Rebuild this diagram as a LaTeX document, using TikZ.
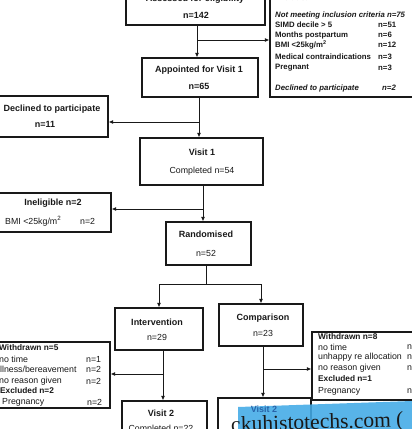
\documentclass[tikz,border=0pt]{standalone}
\usepackage{fontspec}
\setmainfont{Liberation Sans}
\newfontfamily\wmfont{Liberation Serif}
\usetikzlibrary{arrows.meta}
\definecolor{wmblue}{RGB}{66,170,230}
\definecolor{wmtext}{RGB}{40,100,170}
\definecolor{ink}{RGB}{25,25,25}
\begin{document}
\begin{tikzpicture}[x=1pt,y=-1pt,
  box/.style={draw=ink,line width=1.1pt,rectangle,inner sep=0pt},
  ttl/.style={font=\fontsize{9}{10}\selectfont\bfseries,inner sep=0pt,text=ink},
  txt/.style={font=\fontsize{8.8}{10}\selectfont,inner sep=0pt,text=ink},
  itm/.style={font=\fontsize{8.8}{10}\selectfont,inner sep=0pt,anchor=west,text=ink},
  hdr/.style={font=\fontsize{8.3}{10}\selectfont\bfseries,inner sep=0pt,anchor=west,text=ink},
  exi/.style={font=\fontsize{7.8}{10}\selectfont\bfseries,inner sep=0pt,anchor=west,text=ink},
  arr/.style={draw=ink,-{Latex[length=4.5pt,width=4pt]},line width=1pt},
  ln/.style={draw=ink,line width=1pt}]
\useasboundingbox (0,0) rectangle (412,429);
\fill[white] (0,0) rectangle (412,429);
\clip (0,0) rectangle (412,429);

% boxes
\node[box,minimum width=139pt,minimum height=50pt] (assessed) at (195.5,0) {};
\node[box,minimum width=160pt,minimum height=122pt] (excluded) at (350,36) {};
\node[box,minimum width=116pt,minimum height=39pt] (appointed) at (200,77.5) {};
\node[box,minimum width=113pt,minimum height=41pt] (declined) at (51.5,116.5) {};
\node[box,minimum width=123pt,minimum height=47pt] (visit1) at (201.5,161.5) {};
\node[box,minimum width=116pt,minimum height=39pt] (inelig) at (53,212.5) {};
\node[box,minimum width=85pt,minimum height=43pt] (random) at (208.5,243.5) {};
\node[box,minimum width=88pt,minimum height=42pt] (interv) at (159,329) {};
\node[box,minimum width=84pt,minimum height=42pt] (compar) at (261,325) {};
\node[box,minimum width=115pt,minimum height=66pt] (withL) at (52.5,375) {};
\node[box,minimum width=118pt,minimum height=68pt] (withR) at (371,366) {};
\node[box,minimum width=85pt,minimum height=49pt] (visit2L) at (164.5,425.5) {};
\node[box,minimum width=93pt,minimum height=52pt] (visit2R) at (264.5,424) {};

% box texts
\node[ttl] (t-ass) at (195,-1) {Assessed for eligibility};
\node[ttl] (t-ass2) at (196,15) {n=142};
\node[ttl] (t-app) at (199,70) {Appointed for Visit 1};
\node[ttl] (t-app2) at (199,86) {n=65};
\node[ttl] (t-dec) at (52,109) {Declined to participate};
\node[ttl] (t-dec2) at (45,124) {n=11};
\node[ttl] (t-v1) at (202,152) {Visit 1};
\node[txt] (t-v12) at (202,171) {Completed n=54};
\node[ttl] (t-ine) at (53,203) {Ineligible n=2};
\node[txt,anchor=west] (t-ine2) at (5,221) {BMI <25kg/m\textsuperscript{2}};
\node[txt,anchor=west] (t-ine3) at (80,221) {n=2};
\node[ttl] (t-ran) at (206,234) {Randomised};
\node[txt] (t-ran2) at (206,253) {n=52};
\node[ttl] (t-int) at (157,322) {Intervention};
\node[txt] (t-int2) at (157,337) {n=29};
\node[ttl] (t-com) at (263,318) {Comparison};
\node[txt] (t-com2) at (263,333) {n=23};
\node[ttl] (t-v2l) at (161,413) {Visit 2};
\node[txt] (t-v2l2) at (161,429) {Completed n=22};

% excluded list
\node[exi] (e0) at (275,-2) {Excluded};
\node[exi] (e1) at (275,15) {\itshape Not meeting inclusion criteria n=75};
\node[exi] (e2) at (275,25) {SIMD decile > 5};
\node[exi] (e2n) at (378,25) {n=51};
\node[exi] (e3) at (275,35) {Months postpartum};
\node[exi] (e3n) at (378,35) {n=6};
\node[exi] (e4) at (275,45) {BMI <25kg/m\textsuperscript{2}};
\node[exi] (e4n) at (378,45) {n=12};
\node[exi] (e5) at (275,57) {Medical contraindications};
\node[exi] (e5n) at (378,57) {n=3};
\node[exi] (e6) at (275,68) {Pregnant};
\node[exi] (e6n) at (378,68) {n=3};
\node[exi] (e7) at (275,88) {\itshape Declined to participate};
\node[exi] (e7n) at (382,88) {\itshape n=2};

% left withdrawn list
\node[hdr] (l1) at (-1,348) {Withdrawn n=5};
\node[itm] (l2) at (-1,359) {no time};
\node[itm] (l2n) at (86,359) {n=1};
\node[itm] (l3) at (-2,369) {illness/bereavement};
\node[itm] (l3n) at (86,369) {n=2};
\node[itm] (l4) at (-1,381) {no reason given};
\node[itm] (l4n) at (86,381) {n=2};
\node[hdr] (l5) at (0,391) {Excluded n=2};
\node[itm] (l6) at (2,402) {Pregnancy};
\node[itm] (l6n) at (87,402) {n=2};

% right withdrawn list
\node[hdr] (r1) at (318,337) {Withdrawn n=8};
\node[itm] (r2) at (318,347) {no time};
\node[itm] (r2n) at (407,347) {n=};
\node[itm] (r3) at (318,357) {unhappy re allocation};
\node[itm] (r3n) at (407,357) {n=};
\node[itm] (r4) at (318,368) {no reason given};
\node[itm] (r4n) at (407,368) {n=};
\node[hdr] (r5) at (318,379) {Excluded n=1};
\node[itm] (r6) at (318,391) {Pregnancy};
\node[itm] (r6n) at (407,391) {n=};

% connectors
\coordinate (j1) at (197,40);
\draw[arr] (j1 |- assessed.south) -- (j1 |- appointed.north);
\draw[arr] (j1) -- (j1 -| excluded.west);
\coordinate (j2) at (199,122);
\draw[arr] (j2 |- appointed.south) -- (j2 |- visit1.north);
\draw[arr] (j2) -- (j2 -| declined.east);
\coordinate (j3) at (203,209);
\draw[arr] (j3 |- visit1.south) -- (j3 |- random.north);
\draw[arr] (j3) -- (j3 -| inelig.east);
\coordinate (j4) at (206,284);
\draw[ln] (j4 |- random.south) -- (j4);
\draw[ln] (j4 -| interv.north) -- (j4 -| compar.north);
\draw[arr] (j4 -| interv.north) -- (interv.north);
\draw[arr] (j4 -| compar.north) -- (compar.north);
\coordinate (j5) at (163,374);
\draw[arr] (j5 |- interv.south) -- (j5 |- visit2L.north);
\draw[arr] (j5) -- (j5 -| withL.east);
\coordinate (j6) at (263,369);
\draw[arr] (j6 |- compar.south) -- (j6 |- visit2R.north);
\draw[arr] (j6) -- (j6 -| withR.west);

% watermark overlay
\fill[wmblue,opacity=0.88] (238,407) -- (412,401) -- (412,440) -- (238,440) -- cycle;
\node[ttl,text=wmtext] (t-v2r) at (264,409) {Visit 2};
\node[inner sep=0pt,anchor=base west,font=\wmfont\fontsize{21}{21}\selectfont,text=ink] (wc) at (231,431) {c};
\node[inner sep=0pt,anchor=base west,font=\wmfont\fontsize{21.5}{21}\selectfont,text=ink,rotate=1.5] (wm) at (241,431) {kuhistotechs.com (};
\end{tikzpicture}
\end{document}
